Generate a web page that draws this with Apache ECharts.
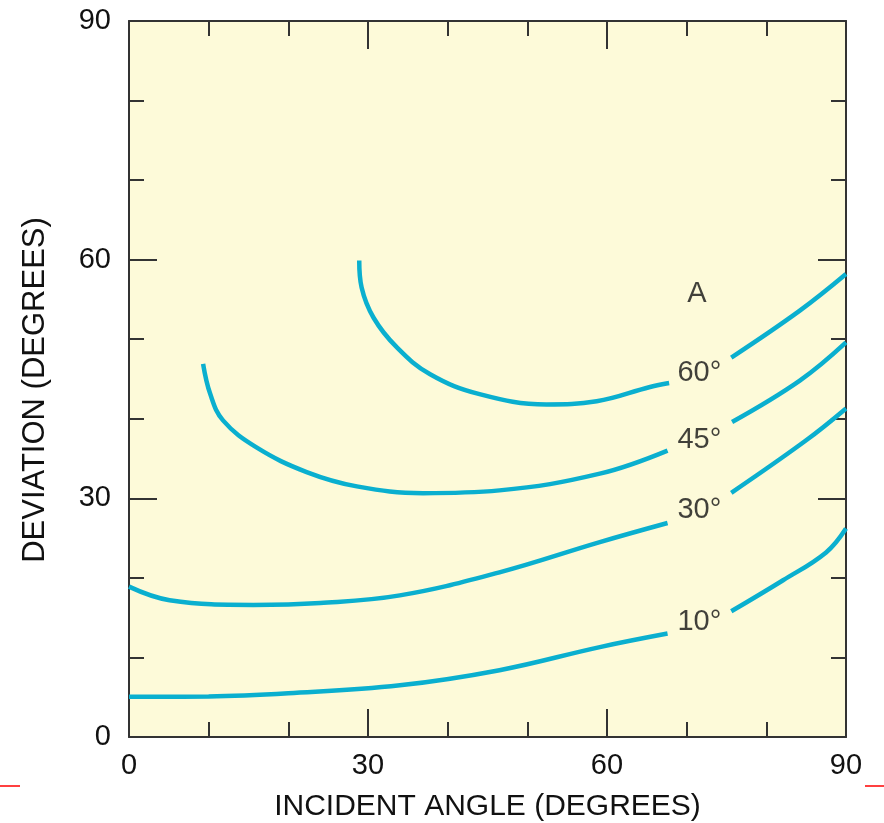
<!DOCTYPE html>
<html>
<head>
<meta charset="utf-8">
<script src="https://cdn.jsdelivr.net/npm/echarts@6/dist/echarts.min.js"></script>
<style>
	html, body { margin: 0; padding: 0; background: #fff; }
	#chart { width: 884px; height: 823px; }
</style>
</head>
<body>
<div id="chart"></div>
<script>
// curves: [incident angle, deviation], null = gap for the label
const curve10 = [[0, 5.05], [10, 5.1], [20, 5.5], [34, 6.5], [46.5, 8.4], [59.1, 11.3], [67.6, 13.0], [71.6, null], [75.6, 15.8], [82.1, 19.7], [87.5, 23.2], [90, 26.2]];
const curve30 = [[0, 18.9], [5.1, 17.2], [15.6, 16.6], [24, 16.85], [34, 17.8], [46.5, 20.7], [59.1, 24.5], [67.6, 26.9], [71.6, null], [75.6, 30.7], [85, 37.3], [90, 41.3]];
const curve45 = [[9.3, 46.9], [10.2, 43.1], [11.8, 39.8], [16.0, 36.4], [22.3, 33.3], [28.6, 31.5], [36.9, 30.65], [46.5, 31.0], [59.1, 33.1], [67.6, 36.0], [71.6, null], [75.7, 39.6], [84.2, 44.8], [90, 49.6]];
const curve60 = [[28.9, 59.9], [29.2, 56.5], [30.7, 52.7], [33.6, 49.0], [37.8, 45.6], [44.0, 43.1], [52.4, 41.8], [58.7, 42.2], [65.4, 44.0], [67.8, 44.5], [71.6, null], [75.6, 47.7], [84.2, 53.6], [90, 58.2]];

const labelNames = ['A', '60°', '45°', '30°', '10°'];
const labelX = [71.3, 71.6, 71.6, 71.6, 71.6];
const labelY = [55.7, 45.8, 37.3, 28.5, 14.4];

const axisTicks = [0, 30, 60, 90];

const lineColor = '#0aafcf';
const inkColor = '#111';

let chart = echarts.init(document.getElementById('chart'), null, { renderer: 'canvas' });

function axis(pos, showLabel) {
	return {
		type: 'value',
		position: pos,
		min: axisTicks[0],
		max: axisTicks[axisTicks.length - 1],
		interval: axisTicks[1] - axisTicks[0],
		axisLine: { show: true, onZero: false, lineStyle: { color: '#333', width: 2 } },
		axisTick: { show: true, inside: true, length: 28, lineStyle: { color: '#333', width: 2 } },
		minorTick: { show: true, splitNumber: 3, length: 15, lineStyle: { color: '#333', width: 2 } },
		splitLine: { show: false },
		axisLabel: {
			show: showLabel,
			fontFamily: 'Liberation Sans',
			fontSize: 29,
			color: inkColor
		}
	};
}

let xBottom = axis('bottom', true);
xBottom.axisLabel.margin = 14;
xBottom.name = 'INCIDENT ANGLE (DEGREES)';
xBottom.nameLocation = 'middle';
xBottom.nameGap = 55;
xBottom.nameTextStyle = { fontFamily: 'Liberation Sans', fontSize: 30, color: inkColor };

let yLeft = axis('left', true);
yLeft.axisLabel.margin = 18;
yLeft.name = 'DEVIATION (DEGREES)';
yLeft.nameLocation = 'middle';
yLeft.nameGap = 78;
yLeft.nameTextStyle = { fontFamily: 'Liberation Sans', fontSize: 31, color: inkColor, padding: [0, 22, 0, 0] };

function curve(data) {
	return {
		type: 'line',
		data: data,
		smooth: 0.4,
		connectNulls: false,
		showSymbol: false,
		silent: true,
		lineStyle: { color: lineColor, width: 4.5, cap: 'butt' }
	};
}

const opt = {
	animation: false,
	grid: {
		left: 129,
		right: 38,
		top: 21,
		bottom: 86,
		show: true,
		backgroundColor: '#fdfad9',
		borderWidth: 0,
		outerBoundsMode: 'none'
	},
	xAxis: [xBottom, axis('top', false)],
	yAxis: [yLeft, axis('right', false)],
	series: [
		curve(curve10),
		curve(curve30),
		curve(curve45),
		curve(curve60),
		{
			type: 'scatter',
			symbolSize: 0,
			silent: true,
			data: labelNames.map((n, i) => ({ name: n, value: [labelX[i], labelY[i]] })),
			label: {
				show: true,
				position: 'inside',
				formatter: '{b}',
				fontFamily: 'Liberation Sans',
				fontSize: 29,
				color: inkColor
			}
		}
	],
	graphic: [
		{ type: 'line', shape: { x1: 0, y1: 786, x2: 20, y2: 786 }, style: { stroke: '#ff0000', lineWidth: 1.5 } },
		{ type: 'line', shape: { x1: 865, y1: 786, x2: 884, y2: 786 }, style: { stroke: '#ff0000', lineWidth: 1.5 } }
	]
};

chart.setOption(opt);
</script>
</body>
</html>
